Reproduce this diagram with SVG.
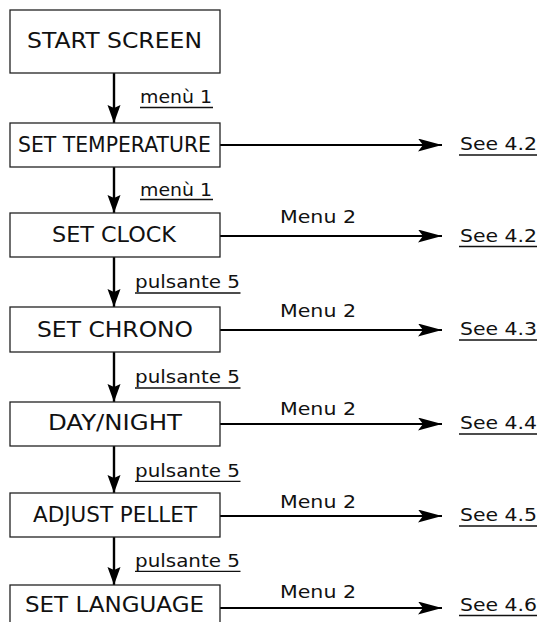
<svg xmlns="http://www.w3.org/2000/svg" width="540" height="622" viewBox="0 0 540 622">
<style>
.box{fill:#fff;stroke:#222;stroke-width:1.3}
.bl{font-family:"DejaVu Sans","Liberation Sans",sans-serif;font-size:22px;fill:#111;text-anchor:middle}
.lbl{font-family:"DejaVu Sans","Liberation Sans",sans-serif;fill:#111}
.ul{stroke:#111;stroke-width:1.3}
.vline{stroke:#000;stroke-width:2.4;fill:none}
.hline{stroke:#000;stroke-width:2;fill:none}
</style>
<defs>
<marker id="av" markerUnits="userSpaceOnUse" markerWidth="19" markerHeight="14" refX="18" refY="6.5" orient="auto">
<path d="M0,0 L18,6.5 L0,13 L3,6.5 z" fill="#000"/>
</marker>
<marker id="ah" markerUnits="userSpaceOnUse" markerWidth="25" markerHeight="14" refX="24" refY="6.5" orient="auto">
<path d="M0,0 L24,6.5 L0,13 L5,6.5 z" fill="#000"/>
</marker>
</defs>
<rect width="540" height="622" fill="#fff"/>
<g id="connectors">
<line class="vline" x1="114" y1="73" x2="114" y2="123" marker-end="url(#av)"/>
<line class="vline" x1="114" y1="167" x2="114" y2="213" marker-end="url(#av)"/>
<line class="vline" x1="114" y1="257" x2="114" y2="307" marker-end="url(#av)"/>
<line class="vline" x1="114" y1="352" x2="114" y2="402" marker-end="url(#av)"/>
<line class="vline" x1="114" y1="446" x2="114" y2="493" marker-end="url(#av)"/>
<line class="vline" x1="114" y1="537" x2="114" y2="585" marker-end="url(#av)"/>
<line class="hline" x1="220" y1="145" x2="442" y2="145" marker-end="url(#ah)"/>
<line class="hline" x1="220" y1="236" x2="442" y2="236" marker-end="url(#ah)"/>
<line class="hline" x1="220" y1="330" x2="442" y2="330" marker-end="url(#ah)"/>
<line class="hline" x1="220" y1="424" x2="442" y2="424" marker-end="url(#ah)"/>
<line class="hline" x1="220" y1="516" x2="442" y2="516" marker-end="url(#ah)"/>
<line class="hline" x1="220" y1="608" x2="442" y2="608" marker-end="url(#ah)"/>
<text class="lbl" x="140" y="103" font-size="17" textLength="72" lengthAdjust="spacingAndGlyphs">menù 1</text>
<line class="ul" x1="140" y1="107.5" x2="213" y2="107.5"/>
<text class="lbl" x="140" y="195.5" font-size="17" textLength="72" lengthAdjust="spacingAndGlyphs">menù 1</text>
<line class="ul" x1="140" y1="199.5" x2="213" y2="199.5"/>
<text class="lbl" x="135" y="288.3" font-size="18.5" textLength="105" lengthAdjust="spacingAndGlyphs">pulsante 5</text>
<line class="ul" x1="135" y1="293" x2="240.5" y2="293"/>
<text class="lbl" x="135" y="383.3" font-size="18.5" textLength="105" lengthAdjust="spacingAndGlyphs">pulsante 5</text>
<line class="ul" x1="135" y1="388" x2="240.5" y2="388"/>
<text class="lbl" x="135" y="476.7" font-size="18.5" textLength="105" lengthAdjust="spacingAndGlyphs">pulsante 5</text>
<line class="ul" x1="135" y1="481.4" x2="240.5" y2="481.4"/>
<text class="lbl" x="135" y="566.7" font-size="18.5" textLength="105" lengthAdjust="spacingAndGlyphs">pulsante 5</text>
<line class="ul" x1="135" y1="571.4" x2="240.5" y2="571.4"/>
<text class="lbl" x="280" y="223" font-size="18.5" textLength="76" lengthAdjust="spacingAndGlyphs">Menu 2</text>
<text class="lbl" x="280" y="317" font-size="18.5" textLength="76" lengthAdjust="spacingAndGlyphs">Menu 2</text>
<text class="lbl" x="280" y="415" font-size="18.5" textLength="76" lengthAdjust="spacingAndGlyphs">Menu 2</text>
<text class="lbl" x="280" y="508" font-size="18.5" textLength="76" lengthAdjust="spacingAndGlyphs">Menu 2</text>
<text class="lbl" x="280" y="598" font-size="18.5" textLength="76" lengthAdjust="spacingAndGlyphs">Menu 2</text>
<text class="lbl" x="460" y="150" font-size="18" textLength="77" lengthAdjust="spacingAndGlyphs">See 4.2</text>
<line class="ul" x1="459" y1="155" x2="537" y2="155"/>
<text class="lbl" x="460" y="241.5" font-size="18" textLength="77" lengthAdjust="spacingAndGlyphs">See 4.2</text>
<line class="ul" x1="459" y1="246.5" x2="537" y2="246.5"/>
<text class="lbl" x="460" y="335" font-size="18" textLength="77" lengthAdjust="spacingAndGlyphs">See 4.3</text>
<line class="ul" x1="459" y1="340" x2="537" y2="340"/>
<text class="lbl" x="460" y="429" font-size="18" textLength="77" lengthAdjust="spacingAndGlyphs">See 4.4</text>
<line class="ul" x1="459" y1="434" x2="537" y2="434"/>
<text class="lbl" x="460" y="521" font-size="18" textLength="77" lengthAdjust="spacingAndGlyphs">See 4.5</text>
<line class="ul" x1="459" y1="526" x2="537" y2="526"/>
<text class="lbl" x="460" y="610.5" font-size="18" textLength="77" lengthAdjust="spacingAndGlyphs">See 4.6</text>
<line class="ul" x1="459" y1="615.5" x2="537" y2="615.5"/>
</g>
<g id="start-screen">
<rect class="box" x="10" y="10" width="210" height="63"/>
<text class="bl" x="114.5" y="48.3" font-size="23.5" textLength="175" lengthAdjust="spacingAndGlyphs">START SCREEN</text>
</g>
<g id="set-temperature">
<rect class="box" x="10" y="123" width="210" height="44"/>
<text class="bl" x="114.5" y="152.3" textLength="193" lengthAdjust="spacingAndGlyphs">SET TEMPERATURE</text>
</g>
<g id="set-clock">
<rect class="box" x="10" y="213" width="210" height="44"/>
<text class="bl" x="114" y="242.3" textLength="124" lengthAdjust="spacingAndGlyphs">SET CLOCK</text>
</g>
<g id="set-chrono">
<rect class="box" x="10" y="307" width="210" height="45"/>
<text class="bl" x="115" y="336.7" textLength="156" lengthAdjust="spacingAndGlyphs">SET CHRONO</text>
</g>
<g id="day-night">
<rect class="box" x="10" y="402" width="210" height="44"/>
<text class="bl" x="115" y="430" textLength="134" lengthAdjust="spacingAndGlyphs">DAY/NIGHT</text>
</g>
<g id="adjust-pellet">
<rect class="box" x="10" y="493" width="210" height="44"/>
<text class="bl" x="115" y="521.7" textLength="164" lengthAdjust="spacingAndGlyphs">ADJUST PELLET</text>
</g>
<g id="set-language">
<rect class="box" x="10" y="585" width="210" height="44"/>
<text class="bl" x="114.5" y="611.7" textLength="179" lengthAdjust="spacingAndGlyphs">SET LANGUAGE</text>
</g>
</svg>
